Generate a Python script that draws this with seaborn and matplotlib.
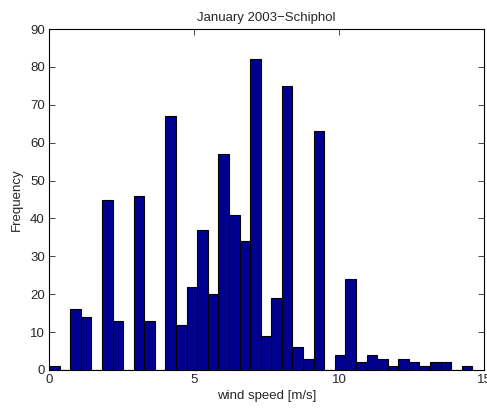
import numpy as np
import pandas as pd
import matplotlib
matplotlib.use("Agg")
import matplotlib.pyplot as plt
import seaborn as sns

# Hourly wind speed histogram, January 2003, Schiphol (40 equal bins)
bin_lo = 0.0
bin_hi = 14.6
n_bins = 40
counts = [1, 0, 16, 14, 0, 45, 13, 0, 46, 13,
          0, 67, 12, 22, 37, 20, 57, 41, 34, 82,
          9, 19, 75, 6, 3, 63, 0, 4, 24, 2,
          4, 3, 1, 3, 2, 1, 2, 2, 0, 1]
x_ticks = [0, 5, 10, 15]
y_ticks = [0, 10, 20, 30, 40, 50, 60, 70, 80, 90]

edges = np.linspace(bin_lo, bin_hi, n_bins + 1)
centers = (edges[:-1] + edges[1:]) / 2
df = pd.DataFrame({"speed": centers, "count": np.asarray(counts, dtype=float)})

sns.set_style("white")
plt.rcParams["font.family"] = ["Liberation Sans", "DejaVu Sans"]

fig = plt.figure(figsize=(4.87, 4.09), dpi=100)
ax = fig.add_axes([0.1006, 0.0954, 0.8932, 0.8336])

sns.histplot(data=df, x="speed", weights="count", bins=n_bins,
             binrange=(bin_lo, bin_hi), ax=ax,
             color="#000090", edgecolor="black", linewidth=0.8,
             alpha=1.0)

fs = 9.5
ax.set_xlim(0, 15)
ax.set_ylim(0, 90)
ax.set_xticks(x_ticks)
ax.set_yticks(y_ticks)
ax.tick_params(direction="in", length=4, width=0.6, labelsize=fs,
               top=True, right=True, bottom=True, left=True, pad=3)
for s in ax.spines.values():
    s.set_visible(True)
    s.set_color("black")
    s.set_linewidth(0.8)

ax.set_title("January 2003\u2212Schiphol", fontsize=fs, pad=6)
ax.set_xlabel("wind speed [m/s]", fontsize=fs, labelpad=3)
ax.set_ylabel("Frequency", fontsize=fs, labelpad=5)

fig.savefig("out.png", dpi=100)
